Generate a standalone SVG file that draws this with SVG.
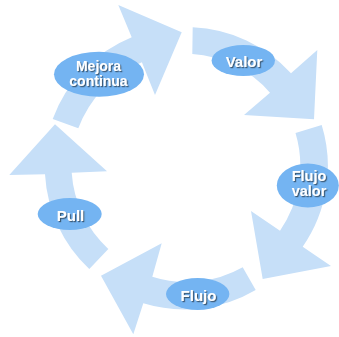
<svg xmlns="http://www.w3.org/2000/svg" width="339" height="337" viewBox="0 0 339 337">
<defs>
<style>
.arrow{fill:#C6DFF8;stroke:none}
.node{fill:#74B4F2;stroke:none}
.lbl{font-family:"Liberation Sans",Arial,sans-serif;font-size:15px;font-weight:bold;fill:#FFFFFF;text-anchor:middle;filter:url(#sh)}
.two{font-size:14.5px}
.mj{font-size:14px}
</style>
<filter id="sh" x="-20%" y="-30%" width="140%" height="160%">
<feDropShadow dx="1.2" dy="1.2" stdDeviation="0.5" flood-color="#2a3a4a" flood-opacity="0.75"/>
</filter>
</defs>
<rect width="339" height="337" fill="#FFFFFF"/>
<g id="connectors">
<path class="arrow" d="M192.7,27.3 A141,141 0 0,1 291,73.3 L317.3,50 L314,119.3 L244,115 L270,92.7 A113,113 0 0,0 192.3,54 Z"/>
<path class="arrow" d="M321.7,125 A141,141 0 0,1 302.7,246.7 L331,266 L262.7,279 L251,211 L280,230.7 A114,114 0 0,0 295.5,133 Z"/>
<path class="arrow" d="M255.7,290 A141,141 0 0,1 143.3,303.3 L133.3,334.3 L101,275.7 L161.7,243.3 L152.3,276.7 A114,114 0 0,0 242.7,267.3 Z"/>
<path class="arrow" d="M89.3,269 A141,141 0 0,1 45,174.3 L9.3,175 L55,124.3 L107,171.3 L71.7,172.7 A114,114 0 0,0 108.3,249 Z"/>
<path class="arrow" d="M52.7,119 A141,141 0 0,1 131.7,37.3 L118.3,5 L181.7,32.3 L155,95 L141.9,62.3 A114,114 0 0,0 78.3,128.3 Z"/>
</g>
<g id="node-valor">
<ellipse class="node" cx="243.3" cy="60.5" rx="31.7" ry="15.5"/>
<text class="lbl" x="244" y="66.5">Valor</text>
</g>
<g id="node-flujo-valor">
<ellipse class="node" cx="307.8" cy="185.5" rx="31" ry="22"/>
<text class="lbl two" x="309" y="181">Flujo</text>
<text class="lbl two" x="309" y="195.5">valor</text>
</g>
<g id="node-flujo">
<ellipse class="node" cx="197.7" cy="294" rx="31.7" ry="16"/>
<text class="lbl" x="198.5" y="301">Flujo</text>
</g>
<g id="node-pull">
<ellipse class="node" cx="69.7" cy="214" rx="32" ry="16"/>
<text class="lbl" x="70.5" y="220.5">Pull</text>
</g>
<g id="node-mejora">
<ellipse class="node" cx="99" cy="74.3" rx="45" ry="22.5"/>
<text class="lbl mj" x="98.5" y="71">Mejora</text>
<text class="lbl mj" x="98.5" y="86">continua</text>
</g>
</svg>
